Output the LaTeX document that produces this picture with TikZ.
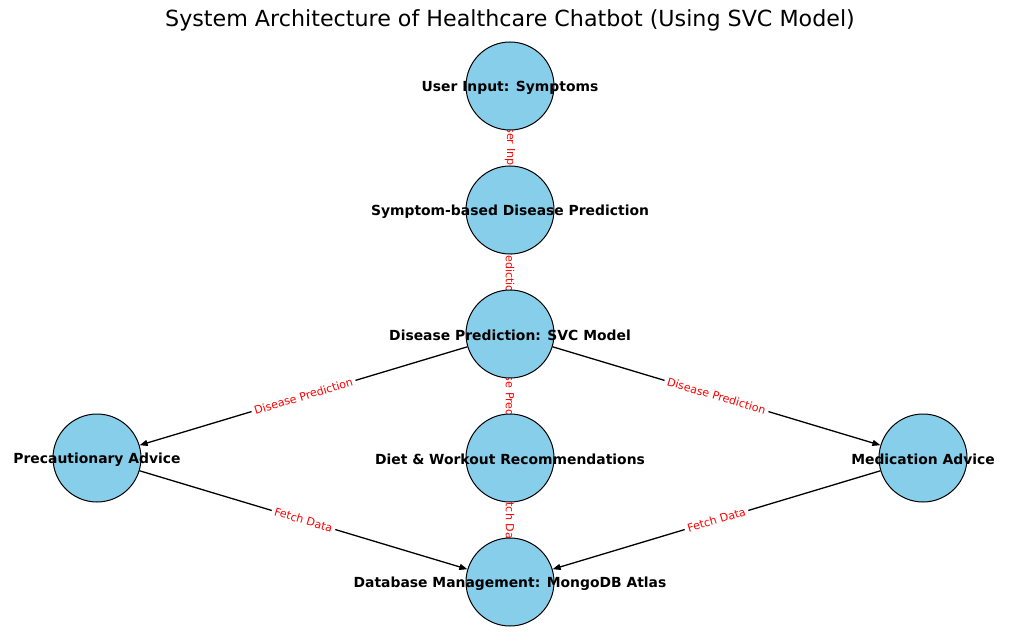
\documentclass[tikz,border=0pt]{standalone}
\usepackage{fontspec}
\setmainfont{DejaVu Sans}
\usetikzlibrary{arrows.meta}
\definecolor{skyblue}{HTML}{87CEEB}
\pgfdeclarelayer{bg}
\pgfsetlayers{bg,main}
\begin{document}
\begin{tikzpicture}[x=1pt,y=-1pt,
 circ/.style={circle,draw=black,fill=skyblue,line width=1pt,minimum size=88pt,inner sep=0pt},
 ntext/.style={font=\fontsize{13.9}{16}\selectfont\bfseries,inner sep=0pt,yshift=-1.5pt},
 edge/.style={line width=1.3pt,-{Triangle[length=8pt,width=6pt]}},
 elabel/.style={font=\fontsize{11.1}{13}\selectfont,text=red,fill=white,rounded corners=3pt,inner sep=3pt}]
\useasboundingbox (0,0) rectangle (1019,644);
\node[font=\fontsize{22.2}{26}\selectfont,inner sep=0pt] (title) at (510,20) {System Architecture of Healthcare Chatbot (Using SVC Model)};
\node[circ] (u) at (510,86) {};
\node[circ] (s) at (510,210) {};
\node[circ] (m) at (510,334) {};
\node[circ] (d) at (510,458) {};
\node[circ] (db) at (510,582) {};
\node[circ] (p) at (97,458) {};
\node[circ] (med) at (923,458) {};
\node[ntext] (ut) at (u) {User Input: Symptoms};
\node[ntext] (st) at (s) {Symptom-based Disease Prediction};
\node[ntext] (mt) at (m) {Disease Prediction: SVC Model};
\node[ntext] (dt) at (d) {Diet \& Workout Recommendations};
\node[ntext] (dbt) at (db) {Database Management: MongoDB Atlas};
\node[ntext] (pt) at (p) {Precautionary Advice};
\node[ntext] (medt) at (med) {Medication Advice};
\begin{pgfonlayer}{bg}
\draw[edge] (u) -- node[elabel,rotate=-90] {User Input} (s);
\draw[edge] (s) -- node[elabel,rotate=-90] {Prediction} (m);
\draw[edge] (m) -- node[elabel,rotate=-90] {Disease Prediction} (d);
\draw[edge] (d) -- node[elabel,rotate=-90] {Fetch Data} (db);
\draw[edge] (m) -- node[elabel,sloped] {Disease Prediction} (p);
\draw[edge] (m) -- node[elabel,sloped] {Disease Prediction} (med);
\draw[edge] (p) -- node[elabel,sloped] {Fetch Data} (db);
\draw[edge] (med) -- node[elabel,sloped] {Fetch Data} (db);
\end{pgfonlayer}
\end{tikzpicture}
\end{document}
